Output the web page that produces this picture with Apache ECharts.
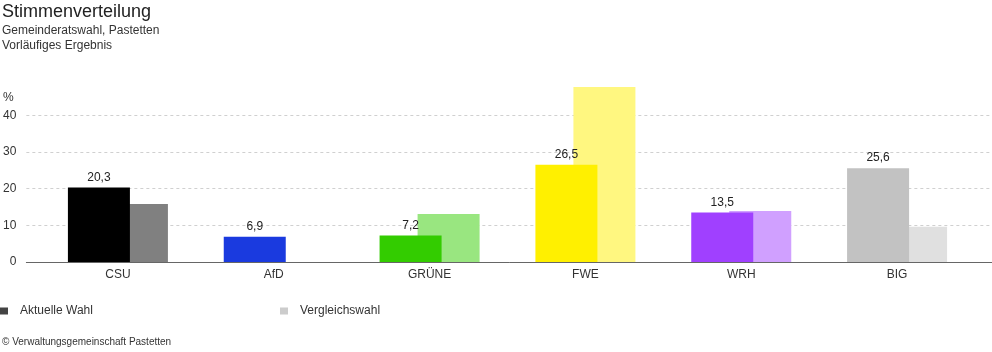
<!DOCTYPE html>
<html>
<head>
<meta charset="utf-8">
<script src="https://cdn.jsdelivr.net/npm/echarts@6/dist/echarts.min.js"></script>
<style>
html,body{margin:0;padding:0;background:#fff;}
#c{width:992px;height:352px;}
</style>
</head>
<body>
<div id="c"></div>
<script>
var categories = ['CSU', 'AfD', 'GRÜNE', 'FWE', 'WRH', 'BIG'];
var currentValues = [20.3, 6.9, 7.2, 26.5, 13.5, 25.6];
var comparisonValues = [15.8, null, 13.1, 47.7, 13.9, 9.6];
var currentColors = ['#000000', '#1a3adf', '#33cc00', '#fff000', '#a040ff', '#c2c2c2'];
var comparisonColors = ['#808080', '#8c9def', '#99e680', '#fff780', '#d0a0ff', '#e0e0e0'];
var yTicks = [0, 10, 20, 30, 40];
var yMax = 48;
var legendNames = ['Aktuelle Wahl', 'Vergleichswahl'];

var FONT = '"Liberation Sans", Arial, Helvetica, sans-serif';
var iconPath = 'path://M0,0h8v7h-8z M14.99,6.99h0.01v0.01h-0.01z';

var chart = echarts.init(document.getElementById('c'), null, {renderer: 'canvas'});
var option = {
  animation: false,
  textStyle: {fontFamily: FONT},
  title: [
    {
      text: 'Stimmenverteilung',
      subtext: 'Gemeinderatswahl, Pastetten\nVorläufiges Ergebnis',
      left: 2, top: 3, padding: 0, itemGap: 2,
      textStyle: {fontSize: 18, fontWeight: 'normal', color: '#222', fontFamily: FONT},
      subtextStyle: {fontSize: 12, color: '#333', lineHeight: 15, fontFamily: FONT}
    },
    {
      text: '%', left: 3, top: 92, padding: 0,
      textStyle: {fontSize: 12, fontWeight: 'normal', color: '#333', fontFamily: FONT}
    },
    {
      text: '© Verwaltungsgemeinschaft Pastetten', left: 2, top: 337, padding: 0,
      textStyle: {fontSize: 10, fontWeight: 'normal', color: '#333', fontFamily: FONT}
    }
  ],
  legend: [
    {
      data: [{name: legendNames[0], icon: iconPath, itemStyle: {color: '#444'}}],
      left: 0, top: 305, padding: 0, itemWidth: 15, itemHeight: 7,
      selectedMode: false,
      textStyle: {fontSize: 12, color: '#333', fontFamily: FONT}
    },
    {
      data: [{name: legendNames[1], icon: iconPath, itemStyle: {color: '#cccccc'}}],
      left: 280, top: 305, padding: 0, itemWidth: 15, itemHeight: 7,
      selectedMode: false,
      textStyle: {fontSize: 12, color: '#333', fontFamily: FONT}
    }
  ],
  grid: [
    {left: 23, right: 0, top: 86, bottom: 90, containLabel: false},
    {left: 40, right: 17, top: 86, bottom: 90, containLabel: false}
  ],
  xAxis: [
    {
      gridIndex: 0, type: 'category', data: [''],
      axisLine: {show: true, lineStyle: {color: '#666', width: 1}},
      axisTick: {show: false}, axisLabel: {show: false}, splitLine: {show: false}
    },
    {
      gridIndex: 1, type: 'category', data: categories,
      axisLine: {show: false}, axisTick: {show: false},
      axisLabel: {fontSize: 12, color: '#333', margin: 7, fontFamily: FONT}
    }
  ],
  yAxis: [
    {
      gridIndex: 0, type: 'value', min: 0, max: yMax, interval: 10,
      axisLine: {show: false}, axisTick: {show: false},
      axisLabel: {
        fontSize: 12, color: '#333', margin: 10, fontFamily: FONT,
        showMaxLabel: false,
        formatter: function (v) { return yTicks.indexOf(v) >= 0 ? String(v) : ''; }
      },
      splitLine: {show: true, showMinLine: false, showMaxLine: false, lineStyle: {color: '#d0d0d0', type: [3, 3], width: 1}}
    },
    {
      gridIndex: 1, type: 'value', min: 0, max: yMax,
      show: false, splitLine: {show: false}
    }
  ],
  series: [
    {
      name: legendNames[0], type: 'bar', xAxisIndex: 1, yAxisIndex: 1,
      barWidth: 62, barGap: '-38.7%', z: 3,
      itemStyle: {color: '#444'},
      data: currentValues.map(function (v, i) {
        return {value: v, itemStyle: {color: currentColors[i]}};
      }),
      label: {
        show: true, position: 'top', distance: 4, fontSize: 12, color: '#222', fontFamily: FONT,
        formatter: function (p) { return String(p.value).replace('.', ','); }
      }
    },
    {
      name: legendNames[1], type: 'bar', xAxisIndex: 1, yAxisIndex: 1,
      barWidth: 62, z: 2,
      itemStyle: {color: '#cccccc'},
      data: comparisonValues.map(function (v, i) {
        return {value: v === null ? '-' : v, itemStyle: {color: comparisonColors[i]}};
      })
    }
  ]
};
chart.setOption(option);
</script>
</body>
</html>
